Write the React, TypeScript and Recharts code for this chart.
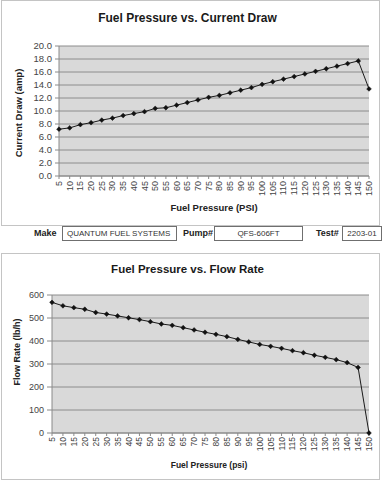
import React from 'react';
import { LineChart, Line, XAxis, YAxis, CartesianGrid } from 'recharts';

const pressurePsi = [5, 10, 15, 20, 25, 30, 35, 40, 45, 50, 55, 60, 65, 70, 75, 80, 85, 90, 95, 100, 105, 110, 115, 120, 125, 130, 135, 140, 145, 150];
const currentAmp = [7.2, 7.4, 7.9, 8.2, 8.6, 8.9, 9.3, 9.6, 9.9, 10.4, 10.5, 10.9, 11.3, 11.7, 12.1, 12.4, 12.8, 13.2, 13.6, 14.1, 14.5, 14.9, 15.3, 15.7, 16.1, 16.5, 16.9, 17.3, 17.7, 13.4];
const flowLbH = [568, 553, 545, 538, 524, 517, 509, 501, 493, 484, 474, 468, 458, 448, 438, 429, 419, 407, 396, 385, 377, 368, 358, 349, 338, 329, 319, 306, 285, 0];

const currentTicks = [0, 2, 4, 6, 8, 10, 12, 14, 16, 18, 20];
const flowTicks = [0, 100, 200, 300, 400, 500, 600];

const FONT = '"Liberation Sans", Arial, sans-serif';
const PLOT_FILL = '#d9d9d9';
const GRID = '#8c8c8c';
const AXIS = '#8a8a8a';
const TEXT = '#444';

const currentData = pressurePsi.map((p, i) => ({ psi: p, amp: currentAmp[i] }));
const flowData = pressurePsi.map((p, i) => ({ psi: p, flow: flowLbH[i] }));

// small black diamond marker
const Diamond = (props: any) => {
    const { cx, cy, index } = props;
    if (cx == null || cy == null) return <g key={`d-${index}`} />;
    const r = 2.4;
    return (
        <path
            key={`d-${index}`}
            d={`M${cx},${cy - r}L${cx + r},${cy}L${cx},${cy + r}L${cx - r},${cy}Z`}
            fill="#111"
            stroke="#111"
            strokeWidth={0.5}
        />
    );
};

// category labels stand on end, reading bottom to top
const makeRotatedTick = (fontSize: number, gap: number) => (props: any) => {
    const { x, y, payload } = props;
    const ty = y + gap;
    return (
        <text
            x={x}
            y={ty}
            transform={`rotate(-90 ${x} ${ty})`}
            textAnchor="end"
            dominantBaseline="central"
            fontSize={fontSize}
            fontFamily={FONT}
            fill={TEXT}
        >
            {payload.value}
        </text>
    );
};

const boxStyle: React.CSSProperties = {
    position: 'absolute',
    left: 1,
    width: 377,
    border: '1px solid #c4c4c4',
    background: '#fff',
};

const titleStyle = (top: number, size: number): React.CSSProperties => ({
    position: 'absolute',
    left: 0,
    width: 371,
    top,
    textAlign: 'center',
    fontSize: size,
    fontWeight: 'bold',
    color: '#1a1a1a',
    fontFamily: FONT,
    lineHeight: 1,
});

const axisTitle = (left: number, top: number, size: number, text: string, rotate = false): React.ReactNode => (
    <div
        style={{
            position: 'absolute',
            left,
            top,
            fontSize: size,
            fontWeight: 'bold',
            color: '#222',
            fontFamily: FONT,
            lineHeight: 1,
            whiteSpace: 'nowrap',
            transform: rotate ? 'translate(-50%, -50%) rotate(-90deg)' : 'translate(-50%, -50%)',
        }}
    >
        {text}
    </div>
);

const fieldBox = (left: number, width: number, text: string, align: 'left' | 'center'): React.ReactNode => (
    <div
        style={{
            position: 'absolute',
            left,
            top: 226,
            width,
            height: 13,
            border: '1px solid #6f6f6f',
            fontSize: 8,
            lineHeight: '13px',
            fontFamily: FONT,
            color: '#333',
            textAlign: align,
            paddingLeft: align === 'left' ? 4 : 0,
            boxSizing: 'content-box',
            whiteSpace: 'nowrap',
        }}
    >
        {text}
    </div>
);

const fieldLabel = (left: number, text: string): React.ReactNode => (
    <div
        style={{
            position: 'absolute',
            left,
            top: 229,
            fontSize: 9,
            fontWeight: 'bold',
            fontFamily: FONT,
            color: '#222',
            lineHeight: 1,
        }}
    >
        {text}
    </div>
);

export default function App() {
    return (
        <div style={{ position: 'absolute', left: 0, top: 0, width: 389, height: 488, background: '#fff', overflow: 'hidden' }}>
            {/* current draw chart */}
            <div style={{ ...boxStyle, top: 0, height: 224 }}>
                <div style={titleStyle(11, 12)}>Fuel Pressure vs. Current Draw</div>
                <LineChart width={377} height={224} data={currentData} margin={{ top: 45, right: 10, left: 0, bottom: 0 }}>
                    <CartesianGrid vertical={false} stroke={GRID} fill={PLOT_FILL} fillOpacity={1} />
                    <XAxis
                        dataKey="psi"
                        interval={0}
                        height={49}
                        tickSize={3}
                        tickMargin={1}
                        stroke={AXIS}
                        tick={makeRotatedTick(9, 1)}
                    />
                    <YAxis
                        width={57}
                        domain={[0, 20]}
                        ticks={currentTicks}
                        interval={0}
                        tickFormatter={(v: number) => v.toFixed(1)}
                        tickSize={4}
                        tickMargin={3}
                        stroke={AXIS}
                        tick={{ fontSize: 9.5, fill: TEXT, fontFamily: FONT }}
                    />
                    <Line
                        type="linear"
                        dataKey="amp"
                        stroke="#1a1a1a"
                        strokeWidth={1}
                        dot={Diamond}
                        isAnimationActive={false}
                    />
                </LineChart>
            </div>
            {axisTitle(19, 113, 9.5, 'Current Draw (amp)', true)}
            {axisTitle(214, 208, 9.5, 'Fuel Pressure (PSI)')}

            {/* pump details row */}
            {fieldLabel(34, 'Make')}
            {fieldBox(62, 109, 'QUANTUM FUEL SYSTEMS', 'left')}
            {fieldLabel(183, 'Pump#')}
            {fieldBox(214, 87, 'QFS-606FT', 'center')}
            {fieldLabel(316, 'Test#')}
            {fieldBox(342, 38, '2203-01', 'center')}

            {/* flow rate chart */}
            <div style={{ ...boxStyle, top: 253, height: 225 }}>
                <div style={titleStyle(10, 11.5)}>Fuel Pressure vs. Flow Rate</div>
                <LineChart width={377} height={225} data={flowData} margin={{ top: 41, right: 10, left: 0, bottom: 0 }}>
                    <CartesianGrid vertical={false} stroke={GRID} fill={PLOT_FILL} fillOpacity={1} />
                    <XAxis
                        dataKey="psi"
                        interval={0}
                        height={46}
                        tickSize={3}
                        tickMargin={1}
                        stroke={AXIS}
                        tick={makeRotatedTick(8.5, 0)}
                    />
                    <YAxis
                        width={50}
                        domain={[0, 600]}
                        ticks={flowTicks}
                        interval={0}
                        tickSize={5}
                        tickMargin={3}
                        stroke={AXIS}
                        tick={{ fontSize: 9, fill: TEXT, fontFamily: FONT }}
                    />
                    <Line
                        type="linear"
                        dataKey="flow"
                        stroke="#1a1a1a"
                        strokeWidth={1}
                        dot={Diamond}
                        isAnimationActive={false}
                    />
                </LineChart>
            </div>
            {axisTitle(17, 352, 9, 'Flow Rate (lb/h)', true)}
            {axisTitle(209, 465, 8.5, 'Fuel Pressure (psi)')}
        </div>
    );
}
